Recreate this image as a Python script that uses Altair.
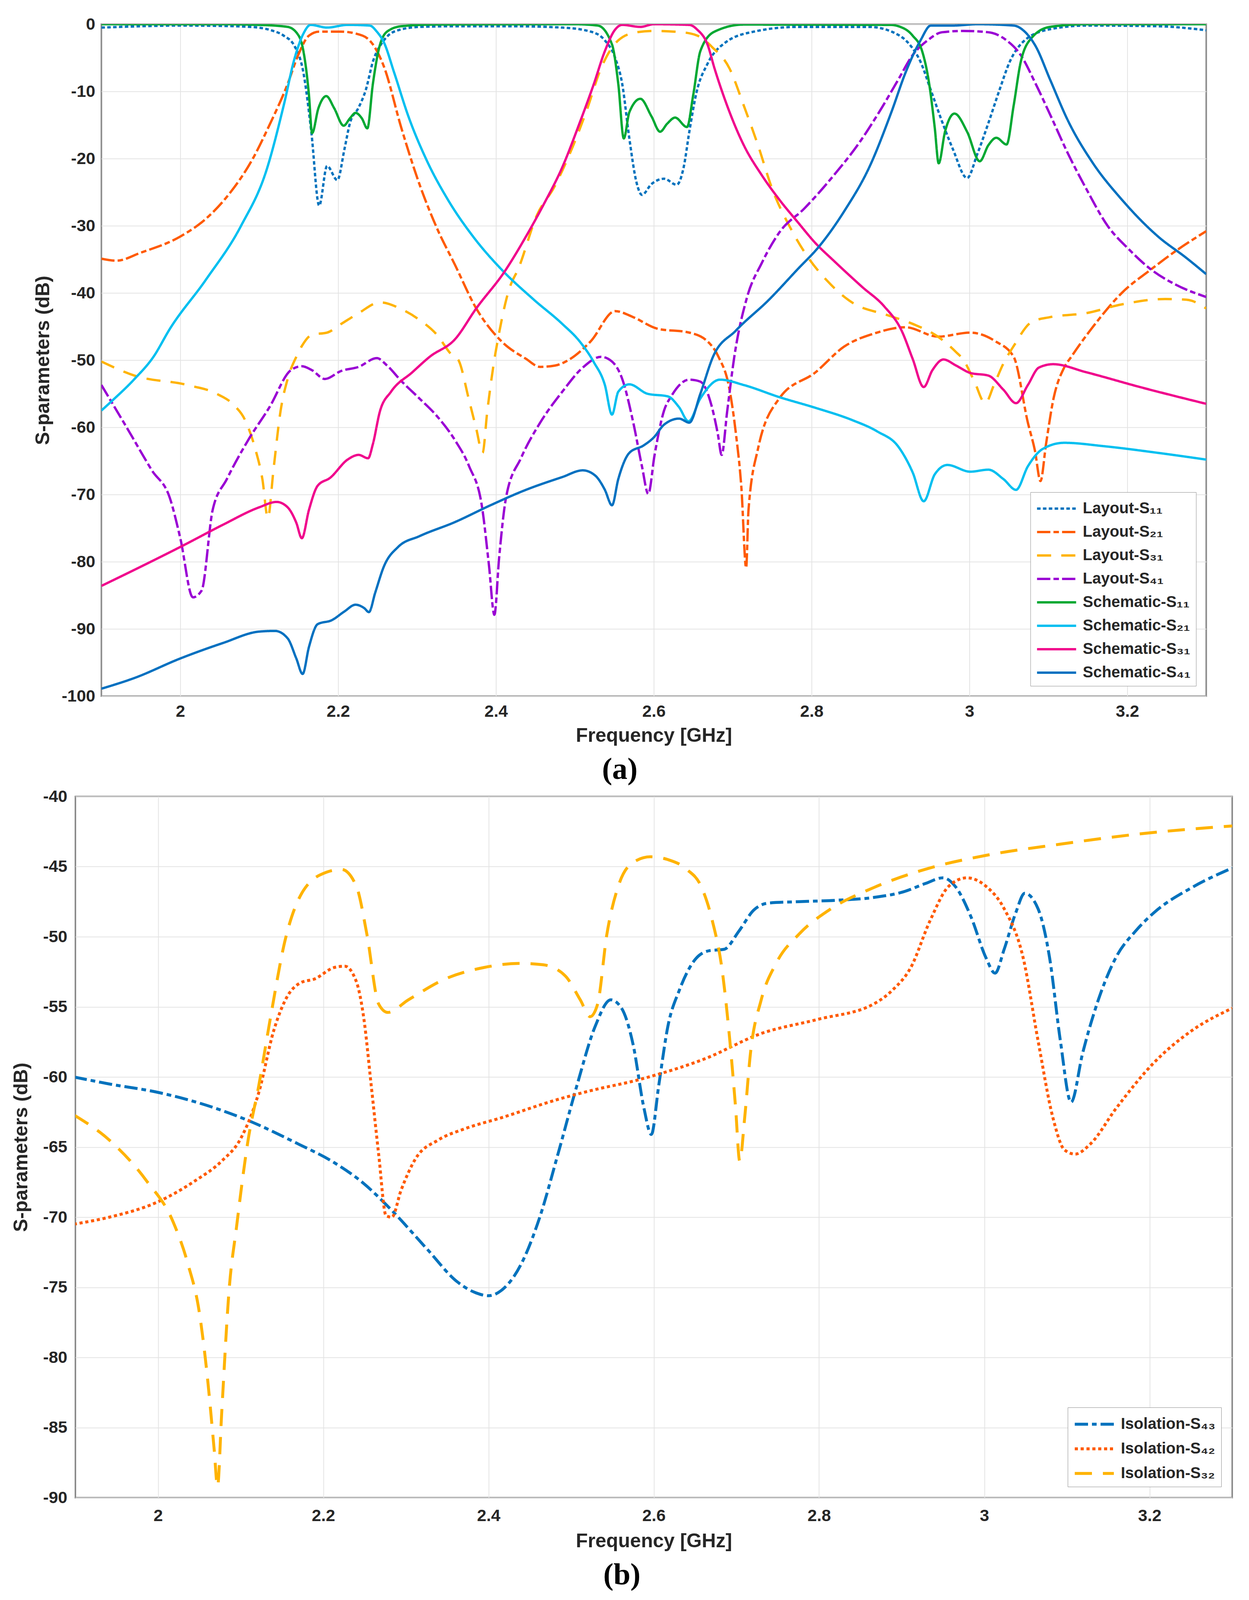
import altair as alt
import pandas as pd

# ---------------- axis tick values ----------------
X_TICKS = [2.0, 2.2, 2.4, 2.6, 2.8, 3.0, 3.2]
Y_TICKS_A = [0, -10, -20, -30, -40, -50, -60, -70, -80, -90, -100]
Y_TICKS_B = [-40, -45, -50, -55, -60, -65, -70, -75, -80, -85, -90]

# ---------------- panel (a) data ----------------
L11_f = [1.9, 1.95, 2.0, 2.05, 2.08, 2.099, 2.115, 2.131, 2.145, 2.156, 2.166, 2.176, 2.186, 2.199, 2.208,
         2.215, 2.226, 2.235, 2.244, 2.258, 2.271, 2.303, 2.35, 2.42, 2.484, 2.52, 2.538, 2.551, 2.56, 2.569,
         2.578, 2.585, 2.597, 2.613, 2.629, 2.638, 2.645, 2.654, 2.668, 2.691, 2.727, 2.782, 2.873, 2.91,
         2.924, 2.938, 2.951, 2.965, 2.979, 2.997, 3.01, 3.024, 3.038, 3.051, 3.07, 3.102, 3.148, 3.239, 3.3]
L11_db = [-0.5, -0.3, -0.2, -0.25, -0.35, -0.5, -0.9, -1.7, -3.3, -7.2, -16, -27, -21.1, -23.2, -18.6,
          -14.7, -12.4, -9.8, -5.6, -2.4, -1.1, -0.4, -0.3, -0.3, -0.5, -1.1, -2.4, -5, -8.9, -17,
          -23.5, -25.4, -23.8, -23, -23.9, -21.2, -16, -10.2, -5.9, -2.7, -1.1, -0.4, -0.4, -1.6,
          -3, -5.6, -9.8, -14.4, -18.6, -22.9, -19.3, -14.7, -9.8, -5.6, -2.4, -0.75, -0.2, -0.3, -0.9]

L21_f = [1.9, 1.919, 1.95, 2.0, 2.032, 2.063, 2.091, 2.113, 2.136, 2.149, 2.163, 2.176, 2.203, 2.231, 2.244,
         2.258, 2.28, 2.303, 2.325, 2.348, 2.375, 2.407, 2.438, 2.456, 2.475, 2.493, 2.52, 2.551, 2.574, 2.604,
         2.645, 2.668, 2.682, 2.696, 2.704, 2.711, 2.717, 2.72, 2.732, 2.759, 2.805, 2.841, 2.88, 2.919, 2.96,
         3.001, 3.033, 3.056, 3.074, 3.083, 3.09, 3.097, 3.106, 3.12, 3.129, 3.16, 3.193, 3.23, 3.262, 3.3]
L21_db = [-34.9, -35.2, -34, -31.6, -29, -25.1, -20.2, -15, -8.9, -4.7, -1.7, -1.1, -1.1, -1.7, -3,
          -6.3, -15.4, -23.8, -30.3, -35.8, -42.3, -47.2, -49.8, -51, -50.8, -49.9, -47.2, -42.7, -43.6, -45.3,
          -45.9, -47.2, -49.5, -54.4, -60.9, -69, -80.9, -72.3, -63.2, -55.7, -51.8, -48, -46, -45.1, -46.5,
          -45.9, -47.2, -49.5, -59.3, -63.5, -68, -62.5, -56, -51.1, -49.5, -44.5, -40, -36.5, -33.7, -30.8]

L31_f = [1.9, 1.942, 2.009, 2.046, 2.068, 2.082, 2.095, 2.104, 2.111, 2.118, 2.127, 2.136, 2.147, 2.154, 2.167,
         2.186, 2.204, 2.226, 2.253, 2.28, 2.303, 2.325, 2.344, 2.352, 2.366, 2.375, 2.383, 2.389, 2.398, 2.402,
         2.416, 2.429, 2.452, 2.474, 2.497, 2.515, 2.533, 2.555, 2.578, 2.6, 2.636, 2.659, 2.673, 2.696, 2.714,
         2.732, 2.75, 2.773, 2.796, 2.819, 2.851, 2.896, 2.928, 2.96, 2.983, 2.992, 3.006, 3.02, 3.031, 3.043,
         3.056, 3.079, 3.102, 3.148, 3.193, 3.248, 3.275, 3.3]
L31_db = [-50.2, -52.3, -53.7, -55, -56.7, -58.9, -63.2, -67.7, -73.5, -66.4, -57.6, -52.8, -49.5, -47.9, -46.2,
          -45.9, -44.6, -43, -41.4, -42.4, -44, -46.2, -49.2, -49.9, -56, -60.2, -63.8, -57.6, -49.9, -47.2,
          -39.7, -36.2, -28.4, -24.2, -18.3, -12.8, -6.6, -2.4, -1.2, -1.0, -1.2, -1.9, -3.3, -6.6, -12.1,
          -18, -24.5, -30.3, -34.8, -38.1, -41.4, -43.3, -44.6, -46.5, -48.8, -49.9, -53.1, -56.4, -53.7, -50.5,
          -47.9, -44.3, -43.6, -43, -41.7, -40.9, -41, -42.3]

L41_f = [1.9, 1.933, 1.964, 1.987, 2.0, 2.016, 2.027, 2.041, 2.059, 2.086, 2.113, 2.14, 2.154, 2.167, 2.183,
         2.204, 2.226, 2.249, 2.262, 2.28, 2.303, 2.325, 2.348, 2.366, 2.382, 2.391, 2.398, 2.404, 2.413, 2.432,
         2.456, 2.484, 2.51, 2.533, 2.547, 2.56, 2.574, 2.585, 2.593, 2.601, 2.613, 2.622, 2.645, 2.659, 2.673,
         2.681, 2.686, 2.693, 2.702, 2.718, 2.737, 2.759, 2.791, 2.828, 2.86, 2.887, 2.91, 2.928, 2.947, 2.965,
         2.992, 3.024, 3.047, 3.065, 3.084, 3.102, 3.125, 3.148, 3.175, 3.202, 3.23, 3.262, 3.3]
L41_db = [-53.7, -60.2, -66.4, -70.6, -76.5, -85.3, -84.3, -72.3, -67.7, -61.9, -57, -51.5, -50.9, -51.5, -52.8,
          -51.6, -51, -49.7, -50.8, -53.1, -55.7, -58.3, -61.9, -65.8, -71.6, -80.4, -87.9, -79.4, -70.3, -64.5,
          -59.3, -54.7, -51.1, -49.5, -50.2, -52.8, -59.3, -65.8, -69.9, -64.1, -57.5, -55.4, -52.9, -53.2, -56.7,
          -60.9, -64.1, -57.6, -49.5, -40.7, -35.5, -31, -27.4, -22.5, -17.7, -12.8, -8.2, -4.6, -2.4, -1.2,
          -1.0, -1.2, -2.4, -4.6, -8.9, -13.4, -19.3, -24.5, -30, -33.5, -36.5, -38.8, -40.6]

S11_f = [1.9, 2.05, 2.1, 2.136, 2.15, 2.156, 2.163, 2.167, 2.175, 2.185, 2.195, 2.207, 2.215, 2.222, 2.23,
         2.237, 2.244, 2.251, 2.262, 2.28, 2.32, 2.5, 2.529, 2.547, 2.555, 2.562, 2.569, 2.583, 2.597, 2.608,
         2.617, 2.627, 2.642, 2.65, 2.659, 2.677, 2.714, 2.9, 2.91, 2.928, 2.94, 2.949, 2.956, 2.961, 2.969,
         2.981, 2.997, 3.013, 3.024, 3.034, 3.047, 3.056, 3.065, 3.079, 3.102, 3.148, 3.3]
S11_db = [0, 0, -0.1, -0.4, -1.7, -4, -10.5, -16.2, -12.5, -10.7, -12.5, -15.1, -14, -13.2, -14,
          -15.5, -8.9, -4, -1.1, -0.3, -0.05, 0, -0.2, -3, -8.9, -17, -13.1, -11.1, -13.7, -16,
          -14.8, -13.9, -15.3, -10.5, -4, -1.1, -0.05, -0.1, -0.3, -1.7, -4, -8.9, -15.4, -20.7, -16,
          -13.3, -16, -20.4, -18, -16.9, -17.9, -12.1, -5.6, -2, -0.4, 0, 0]

S21_f = [1.9, 1.914, 1.942, 1.966, 1.987, 2.032, 2.077, 2.109, 2.131, 2.145, 2.156, 2.165, 2.186, 2.212, 2.24,
         2.249, 2.258, 2.271, 2.289, 2.312, 2.339, 2.371, 2.407, 2.448, 2.484, 2.506, 2.524, 2.538, 2.547, 2.555,
         2.569, 2.592, 2.618, 2.632, 2.644, 2.659, 2.684, 2.714, 2.759, 2.805, 2.851, 2.883, 2.91, 2.928, 2.942,
         2.956, 2.972, 3.001, 3.024, 3.043, 3.059, 3.074, 3.093, 3.12, 3.17, 3.239, 3.3]
S21_db = [-57.5, -56, -52.8, -49.5, -45.3, -38.1, -30, -21.8, -12.1, -5, -1.4, -0.1, -0.5, -0.1, -0.2,
          -1.1, -2.7, -7.2, -13.7, -20.2, -26.1, -31.6, -36.5, -41, -44.6, -47.2, -50.3, -53.7, -58.1, -54.7,
          -53.6, -55, -55.4, -57, -59.1, -55.7, -52.9, -53.7, -55.5, -57.1, -58.9, -60.6, -62.9, -66.7, -71,
          -67, -65.6, -66.6, -66.3, -67.7, -69.3, -65.8, -63.2, -62.3, -62.8, -63.8, -64.8]

S31_f = [1.9, 1.942, 2.005, 2.054, 2.1, 2.122, 2.136, 2.147, 2.154, 2.163, 2.174, 2.19, 2.212, 2.226, 2.238,
         2.244, 2.253, 2.267, 2.294, 2.316, 2.348, 2.375, 2.411, 2.438, 2.461, 2.484, 2.506, 2.524, 2.538, 2.551,
         2.56, 2.583, 2.6, 2.645, 2.655, 2.668, 2.677, 2.691, 2.714, 2.737, 2.759, 2.782, 2.805, 2.828, 2.864,
         2.892, 2.914, 2.928, 2.942, 2.953, 2.967, 2.983, 3.001, 3.024, 3.043, 3.059, 3.074, 3.088, 3.106, 3.148,
         3.216, 3.3]
S31_db = [-83.6, -81.2, -77.5, -74.5, -71.9, -71.1, -71.9, -74.2, -76.5, -72.3, -68.7, -67.5, -64.8, -64.1, -64.6,
          -62.5, -57.6, -54.7, -51.8, -49.5, -46.9, -42.3, -36.8, -31.6, -26.7, -21.3, -14.7, -8.9, -4, -0.8,
          -0.1, -0.4, 0, -0.1, -0.8, -3, -6.6, -11.5, -18, -22.5, -26.1, -29.4, -32.6, -35.2, -39.1,
          -42, -45.6, -49.8, -54, -51.5, -49.9, -50.8, -51.9, -52.3, -54.4, -56.4, -53.7, -51.1, -50.6, -51.8,
          -54, -56.5]

S41_f = [1.9, 1.942, 2.0, 2.054, 2.1, 2.12, 2.136, 2.147, 2.155, 2.163, 2.174, 2.192, 2.208, 2.222, 2.233,
         2.239, 2.247, 2.258, 2.276, 2.303, 2.348, 2.393, 2.438, 2.484, 2.51, 2.526, 2.538, 2.547, 2.555, 2.569,
         2.587, 2.6, 2.613, 2.632, 2.645, 2.659, 2.675, 2.704, 2.746, 2.782, 2.81, 2.842, 2.873, 2.901, 2.919,
         2.938, 2.951, 2.979, 3.01, 3.056, 3.07, 3.084, 3.102, 3.125, 3.156, 3.193, 3.239, 3.275, 3.3]
S41_db = [-98.9, -97.3, -94.4, -92.1, -90.4, -90.3, -91.4, -94.4, -96.7, -92.7, -89.3, -88.7, -87.4, -86.4, -86.9,
          -87.5, -84.6, -80.7, -77.8, -76.2, -74.1, -71.6, -69.3, -67.4, -66.4, -67.2, -69.3, -71.6, -67.7, -63.8,
          -62.7, -61.5, -59.6, -58.7, -59.3, -55, -49.5, -45.6, -41, -36.5, -33, -27.7, -21.3, -13.1, -7.2,
          -2.4, -0.2, -0.2, 0, -0.2, -1.1, -3.3, -8.2, -14.4, -20.6, -26.1, -31.6, -34.8, -37.2]

SERIES_A = ["Layout-S₁₁", "Layout-S₂₁", "Layout-S₃₁", "Layout-S₄₁",
            "Schematic-S₁₁", "Schematic-S₂₁", "Schematic-S₃₁", "Schematic-S₄₁"]
FREQS_A = [L11_f, L21_f, L31_f, L41_f, S11_f, S21_f, S31_f, S41_f]
DBS_A = [L11_db, L21_db, L31_db, L41_db, S11_db, S21_db, S31_db, S41_db]

COLORS_A = ["#0072BD", "#FF5A00", "#FFB300", "#9A00D4", "#00A832", "#00BFF0", "#F0058C", "#0070C0"]
DASH_A = [[9, 6], [34, 8, 14, 8], [36, 26], [34, 8, 14, 8], [1, 0], [1, 0], [1, 0], [1, 0]]
WIDTH_A = [6, 6, 6, 6, 4, 4, 4, 4]

# ---------------- panel (b) data ----------------
I43_f = [1.898, 1.941, 2.0, 2.068, 2.113, 2.167, 2.213, 2.249, 2.281, 2.326, 2.362, 2.385, 2.4, 2.416, 2.439,
         2.462, 2.484, 2.507, 2.529, 2.548, 2.561, 2.575, 2.588, 2.597, 2.606, 2.617, 2.631, 2.649, 2.667, 2.685,
         2.703, 2.721, 2.739, 2.776, 2.821, 2.866, 2.902, 2.929, 2.95, 2.966, 2.984, 3.002, 3.013, 3.024, 3.038,
         3.049, 3.065, 3.079, 3.092, 3.105, 3.119, 3.138, 3.16, 3.183, 3.205, 3.251, 3.3]
I43_db = [-60.0, -60.5, -61.1, -62.2, -63.2, -64.7, -66.1, -67.6, -69.4, -72.3, -74.6, -75.4, -75.6, -75.2, -73.4,
          -70, -65.5, -60.6, -56.4, -54.5, -55.1, -57.7, -62.2, -64.1, -60.6, -56.4, -53.8, -51.7, -51, -50.9,
          -49.6, -48.1, -47.6, -47.5, -47.4, -47.2, -46.8, -46.2, -45.8, -46.5, -48.6, -51.5, -52.6, -50.9, -48.3,
          -46.9, -48, -51.5, -57.4, -61.8, -58.3, -54.5, -51.4, -49.6, -48.3, -46.5, -45.1]

I42_f = [1.898, 1.941, 2.0, 2.045, 2.077, 2.1, 2.122, 2.14, 2.156, 2.172, 2.19, 2.213, 2.226, 2.24, 2.249,
         2.258, 2.267, 2.276, 2.283, 2.294, 2.312, 2.339, 2.371, 2.416, 2.484, 2.529, 2.575, 2.6, 2.662, 2.73,
         2.798, 2.866, 2.889, 2.911, 2.934, 2.957, 2.979, 3.002, 3.024, 3.047, 3.065, 3.083, 3.097, 3.11, 3.128,
         3.16, 3.205, 3.251, 3.3]
I42_db = [-70.5, -70, -68.9, -67.4, -66, -64.4, -61.1, -56.7, -54.3, -53.3, -53, -52.2, -52.1, -53.2, -55.8,
          -60.6, -65.5, -69.9, -70, -68.1, -65.8, -64.5, -63.7, -62.9, -61.6, -60.9, -60.3, -59.9, -58.7, -56.9,
          -55.9, -54.8, -53.8, -52.2, -48.9, -46.4, -45.8, -46.4, -48, -51.5, -57.4, -62.9, -65.2, -65.5, -64.8,
          -62.2, -59, -56.7, -55.1]

I32_f = [1.898, 1.941, 1.986, 2.018, 2.036, 2.05, 2.059, 2.068, 2.072, 2.077, 2.086, 2.095, 2.109, 2.122, 2.136,
         2.154, 2.176, 2.204, 2.222, 2.24, 2.253, 2.267, 2.278, 2.303, 2.348, 2.394, 2.439, 2.466, 2.493, 2.511,
         2.523, 2.532, 2.543, 2.557, 2.575, 2.596, 2.617, 2.64, 2.658, 2.671, 2.683, 2.692, 2.699, 2.704, 2.71,
         2.717, 2.73, 2.748, 2.776, 2.812, 2.866, 2.934, 3.002, 3.092, 3.183, 3.3]
I32_db = [-62.7, -64.5, -67.4, -70.3, -73.3, -76.8, -81, -86.6, -89.2, -84, -75.2, -70.7, -64.5, -60.6, -55.8,
          -50.2, -46.7, -45.4, -45.2, -46.4, -49.9, -54.8, -55.4, -54.5, -53, -52.2, -51.9, -52, -52.8, -54.5,
          -55.7, -54.8, -49.9, -46.4, -44.7, -44.3, -44.5, -45.2, -46.5, -48.9, -52.5, -57.4, -62.2, -66, -62.9,
          -58.3, -54.5, -51.9, -49.8, -48.1, -46.5, -45.1, -44.2, -43.4, -42.7, -42.1]

SERIES_B = ["Isolation-S₄₃", "Isolation-S₄₂", "Isolation-S₃₂"]
FREQS_B = [I43_f, I42_f, I32_f]
DBS_B = [I43_db, I42_db, I32_db]
COLORS_B = ["#0072BD", "#FF5A00", "#FFB300"]
DASH_B = [[34, 10, 12, 10], [8, 7], [44, 28]]
WIDTH_B = [7.5, 7.5, 7.5]


def long_frame(names, freqs, dbs):
    rows = []
    for name, fs, ds in zip(names, freqs, dbs):
        for f, d in zip(fs, ds):
            rows.append({"f": f, "dB": d, "series": name})
    return pd.DataFrame(rows)


df_a = long_frame(SERIES_A, FREQS_A, DBS_A)
df_b = long_frame(SERIES_B, FREQS_B, DBS_B)

FONT = "Liberation Sans"
TXT = "#262626"


def panel(df, names, colors, dashes, widths, ydom, yticks, w, h, caption,
          y_lab_pad, y_title_pad, x_lab_pad, x_title_pad, cap_offset, legend_offset, row_pad):
    leg = alt.Legend(title=None, orient="bottom-right", offset=legend_offset, padding=14,
                     strokeColor="#8c8c8c", fillColor="white",
                     labelFont=FONT, labelFontSize=40, labelFontWeight="bold", labelColor=TXT,
                     labelLimit=1000, labelOffset=64, symbolType="M-1,0H3", symbolSize=2500,
                     symbolStrokeWidth=6, rowPadding=row_pad)
    return alt.Chart(df).mark_line(interpolate="monotone", clip=True).encode(
        x=alt.X("f:Q", scale=alt.Scale(domain=[1.9, 3.3], nice=False, zero=False),
                axis=alt.Axis(values=X_TICKS, labelExpr="toString(datum.value)",
                              title="Frequency [GHz]", labelPadding=x_lab_pad,
                              titlePadding=x_title_pad)),
        y=alt.Y("dB:Q", scale=alt.Scale(domain=ydom, nice=False, zero=False),
                axis=alt.Axis(values=yticks, labelExpr="toString(datum.value)",
                              title="S-parameters (dB)", labelPadding=y_lab_pad,
                              titlePadding=y_title_pad)),
        color=alt.Color("series:N", scale=alt.Scale(domain=names, range=colors), legend=leg),
        strokeDash=alt.StrokeDash("series:N", scale=alt.Scale(domain=names, range=dashes), legend=leg),
        strokeWidth=alt.StrokeWidth("series:N", scale=alt.Scale(domain=names, range=widths), legend=None),
    ).properties(
        width=w, height=h,
        title=alt.TitleParams(caption, orient="bottom", frame="bounds", anchor="middle",
                              font="Liberation Serif", fontSize=78, fontWeight="bold",
                              color="black", offset=cap_offset),
    )


top = panel(df_a, SERIES_A, COLORS_A, DASH_A, WIDTH_A, [-100, 0], Y_TICKS_A, 2828, 1720, "(a)",
            16, 22, 18, 15, 24, 26, 12)
bottom = panel(df_b, SERIES_B, COLORS_B, DASH_B, WIDTH_B, [-90, -40], Y_TICKS_B, 2961, 1795, "(b)",
               21, 30, 25, 18, 24, 28, 14)

chart = alt.vconcat(top, bottom, spacing=4, center=True).resolve_scale(
    color="independent", strokeDash="independent", strokeWidth="independent"
).resolve_legend(
    color="independent", strokeDash="independent"
).properties(
    padding={"left": 19, "top": 31, "right": 6, "bottom": 0},
    background="white",
).configure_view(
    stroke="#8c8c8c", strokeWidth=4
).configure_axis(
    grid=True, gridColor="#e3e3e3", gridWidth=2, domain=False, ticks=False, tickSize=0,
    labelFont=FONT, labelFontSize=43, labelFontWeight="bold", labelColor=TXT,
    titleFont=FONT, titleFontSize=50, titleFontWeight="bold", titleColor=TXT,
)

chart.save("out.html", embed_options={"renderer": "svg", "actions": False})
